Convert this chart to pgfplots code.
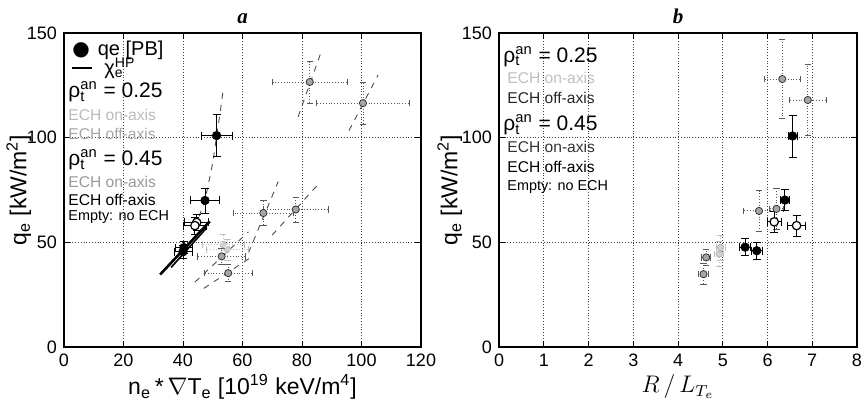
\documentclass[border=0pt]{standalone}
\usepackage{pgfplots}
\pgfplotsset{compat=1.18}
\usepackage{fontspec}
\setmainfont{Liberation Sans}
\newfontfamily\serifit{Liberation Serif}
\newfontfamily\dejavu{DejaVu Sans}
\newcommand{\rhot}{ρ\rlap{\textsubscript{t}}\textsuperscript{an}}
\newcommand{\chie}{χ\rlap{\textsubscript{e}}\textsuperscript{HP}}

\pgfplotstableread{
x y ex ey
51.3 101 5.2 10
47.4 70 5 6
40.3 47.5 3 3
40.0 45.5 3 3
}\blackA
\pgfplotstableread{
x y ex ey
44.6 59.5 4 4
44.0 58 4 4
}\openA
\pgfplotstableread{
x y ex ey
53.0 43.3 8 4
55.2 35.3 8 4
67.0 64.0 10 6
77.9 65.7 11 6
82.6 126.6 12.5 10
100.5 116.5 15.5 10
}\grayA
\pgfplotstableread{
x y ex ey
53.5 49 7 5
55.0 46.5 7 5
}\lightA

\pgfplotstableread{
x y ex ey
6.56 100.8 0.1 10
6.39 70.2 0.1 5
5.50 47.7 0.12 4
5.76 46.0 0.12 4
}\blackB
\pgfplotstableread{
x y ex ey
6.15 59.8 0.15 5
6.65 58.0 0.2 5
}\openB
\pgfplotstableread{
x y ex ey
6.33 128 0.4 19
6.90 118 0.42 17
5.81 65 0.35 10
6.20 66 0.15 10
4.63 42.8 0.1 4
4.57 34.8 0.12 5
}\grayB
\pgfplotstableread{
x y ex ey
4.92 44.4 0.1 6
4.95 47.5 0.1 6
}\lightB

\pgfplotsset{
  panel/.style={
    scale only axis, height=157pt, anchor=south west,
    ymin=0, ymax=150, ytick={0,50,100,150},
    grid=major,
    major grid style={densely dotted, black!75, line width=0.4pt},
    axis line style={black, line width=0.6pt},
    tick align=inside, tick pos=both,
    major tick length=3pt,
    tick style={black, line width=0.5pt},
    ticklabel style={font=\fontsize{9}{10}\selectfont},
    /pgf/number format/assume math mode=true,
    clip=false,
  },
  blk/.style={only marks, mark=*, mark size=2.1pt, mark options={fill=black, draw=black},
    error bars/.cd, x dir=both, y dir=both, x explicit, y explicit,
    error bar style={black, line width=0.5pt},
    error mark options={rotate=90, mark size=2pt, black}},
  opn/.style={only marks, mark=*, mark size=2.1pt, mark options={fill=white, draw=black, line width=0.6pt},
    error bars/.cd, x dir=both, y dir=both, x explicit, y explicit,
    error bar style={black, line width=0.5pt},
    error mark options={rotate=90, mark size=2pt, black}},
  gry/.style={only marks, mark=*, mark size=1.8pt, mark options={fill=gray!70, draw=gray!40!black},
    error bars/.cd, x dir=both, y dir=both, x explicit, y explicit,
    error bar style={gray!70!black, densely dotted, line width=0.45pt},
    error mark options={rotate=90, mark size=1.6pt, gray!70!black, solid}},
  lgt/.style={only marks, mark=*, mark size=1.6pt, mark options={fill=gray!35, draw=gray!60},
    error bars/.cd, x dir=both, y dir=both, x explicit, y explicit,
    error bar style={gray!50, densely dotted, line width=0.45pt},
    error mark options={rotate=90, mark size=1.6pt, gray!50, solid}},
  hp/.style={gray!60!black, dashed, line width=0.45pt, mark=none},
}

\begin{document}
\begin{tikzpicture}
\useasboundingbox (0,0) rectangle (432.5pt,206pt);

% ---------------- panel a ----------------
\begin{axis}[panel, at={(32pt,32.5pt)}, width=178.5pt,
  xmin=0, xmax=120, xtick={0,20,...,120},
  xlabel={n\textsubscript{e}\,*\,$\nabla$T\textsubscript{e} [10\textsuperscript{19} keV/m\textsuperscript{4}]},
  xlabel style={font=\fontsize{11.5}{13}\selectfont, yshift=3pt},
  ylabel={q\textsubscript{e} [kW/m\textsuperscript{2}]},
  ylabel style={font=\fontsize{11.5}{13}\selectfont, yshift=-9pt},
  title={\serifit\itshape\bfseries a}, title style={font=\fontsize{10.5}{12}\selectfont, yshift=-5pt},
]
% chi_e^HP lines
\addplot[hp] coordinates {(44,57) (47.4,70) (50,88) (51.3,101) (52.5,112) (53.6,124)};
\addplot[black, line width=1.3pt] coordinates {(32.3,34.6) (49,60)};
\addplot[black, line width=0.8pt] coordinates {(36,38) (48,57)};
\addplot[hp] coordinates {(44,31) (62,55)};
\addplot[hp] coordinates {(47,28) (63,43)};
\addplot[hp] coordinates {(62,45) (72,79)};
\addplot[hp] coordinates {(70,53.5) (85,77)};
\addplot[hp] coordinates {(78.7,110) (86.2,140)};
\addplot[hp] coordinates {(95.8,103.4) (105.6,130)};
% data
\addplot+[lgt] table[x=x, y=y, x error=ex, y error=ey] {\lightA};
\addplot+[gry] table[x=x, y=y, x error=ex, y error=ey] {\grayA};
\addplot+[opn] table[x=x, y=y, x error=ex, y error=ey] {\openA};
\addplot+[blk] table[x=x, y=y, x error=ex, y error=ey] {\blackA};
\end{axis}

% legend panel a
\begin{scope}[every node/.style={anchor=west, inner sep=0pt}]
\node at (36pt,181pt) {\fontsize{10}{11}\selectfont{\dejavu ●}\hspace{4pt}qe [PB]};
\node at (36pt,172pt) {\fontsize{10}{11}\selectfont\rule[2.5pt]{10pt}{1pt}\hspace{6pt}\chie};
\node at (34pt,160pt) {\fontsize{10.5}{12}\selectfont\rhot\ = 0.25};
\node[gray!55] at (34pt,148.5pt) {\fontsize{7.8}{9}\selectfont ECH on-axis};
\node[gray!70] at (34pt,139pt) {\fontsize{7.8}{9}\selectfont ECH off-axis};
\node at (34pt,126pt) {\fontsize{10.5}{12}\selectfont\rhot\ = 0.45};
\node[gray!80] at (34pt,115.2pt) {\fontsize{7.8}{9}\selectfont ECH on-axis};
\node at (34pt,106pt) {\fontsize{7.8}{9}\selectfont ECH off-axis};
\node at (34pt,97.5pt) {\fontsize{7.2}{8}\selectfont Empty: no ECH};
\end{scope}

% ---------------- panel b ----------------
\begin{axis}[panel, at={(249.5pt,32.5pt)}, width=179pt,
  xmin=0, xmax=8, xtick={0,...,8},
  xlabel={$R\,/\,L_{T_e}$},
  xlabel style={font=\fontsize{11.5}{13}\selectfont, yshift=3pt},
  ylabel={q\textsubscript{e} [kW/m\textsuperscript{2}]},
  ylabel style={font=\fontsize{11.5}{13}\selectfont, yshift=-7pt},
  title={\serifit\itshape\bfseries b}, title style={font=\fontsize{10.5}{12}\selectfont, yshift=-5pt},
]
\addplot+[lgt] table[x=x, y=y, x error=ex, y error=ey] {\lightB};
\addplot+[gry] table[x=x, y=y, x error=ex, y error=ey] {\grayB};
\addplot+[opn] table[x=x, y=y, x error=ex, y error=ey] {\openB};
\addplot+[blk] table[x=x, y=y, x error=ex, y error=ey] {\blackB};
\end{axis}

% legend panel b
\begin{scope}[every node/.style={anchor=west, inner sep=0pt}]
\node at (251.5pt,177.6pt) {\fontsize{10.5}{12}\selectfont\rhot\ = 0.25};
\node[gray!50] at (253.5pt,166.8pt) {\fontsize{7.8}{9}\selectfont ECH on-axis};
\node[black!85] at (253.5pt,156.8pt) {\fontsize{7.8}{9}\selectfont ECH off-axis};
\node at (251.5pt,143.5pt) {\fontsize{10.5}{12}\selectfont\rhot\ = 0.45};
\node[black!80] at (253.5pt,132.6pt) {\fontsize{7.8}{9}\selectfont ECH on-axis};
\node at (253.5pt,122.6pt) {\fontsize{7.8}{9}\selectfont ECH off-axis};
\node at (253.5pt,112.6pt) {\fontsize{7.2}{8}\selectfont Empty: no ECH};
\end{scope}
\end{tikzpicture}
\end{document}
